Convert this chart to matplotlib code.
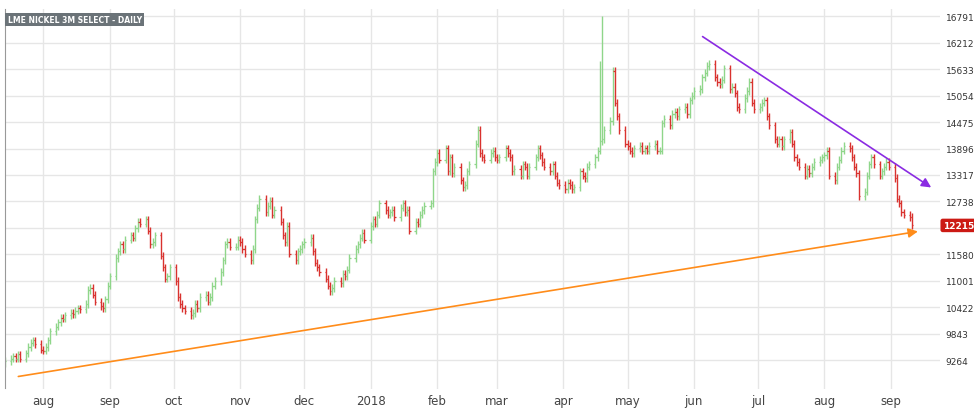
import matplotlib
matplotlib.use("Agg")
import matplotlib.pyplot as plt
import matplotlib.dates as mdates
import pandas as pd
import numpy as np

closes = [9250, 9300, 9350, 9300, 9400,
 9300, 9420, 9560, 9650, 9700, 9620, 9500, 9480, 9560, 9700, 9900, 10000,
 10100, 10200, 10180, 10250, 10300, 10270, 10350, 10400, 10380, 10500, 10800, 10850, 10700, 10550, 10450, 10400, 10600, 10900, 11100, 11500, 11650, 11800, 11700,
 11900, 12000, 11950, 12150, 12300, 12250, 12350, 12100, 11800, 11850, 12000, 11550, 11300, 11050, 11100, 11300, 11000, 10650, 10500, 10400, 10350,
 10250, 10300, 10500, 10400, 10650, 10700, 10550, 10650, 10900, 11000, 11200, 11450, 11800, 11850, 11750, 11750, 11900, 11850, 11700, 11600, 11450, 11700,
 12350, 12600, 12790, 12500, 12650, 12750, 12450, 12550, 12300, 12000, 11850, 12200, 11600, 11450, 11650, 11700, 11800, 11850, 11950, 11650, 11400, 11300,
 11200, 11050, 10900, 10780, 10850, 11000, 10950, 11150, 11100, 11250, 11500, 11700, 11800, 11950, 12050, 11900, 12200, 12350, 12250, 12450,
 12700, 12550, 12450, 12500, 12550, 12400, 12600, 12700, 12500, 12550, 12100, 12300, 12250, 12450, 12550, 12650, 12700, 13400, 13600, 13800, 13650, 13900,
 13400, 13700, 13350, 13500, 13200, 13050, 13100, 13400, 13550, 14000, 14300, 13800, 13700, 13650, 13800, 13850, 13700, 13650, 13700, 13900,
 13800, 13700, 13400, 13450, 13300, 13550, 13500, 13300, 13500, 13700, 13900, 13750, 13600, 13500, 13400, 13550, 13300, 13150, 13100, 13000, 13150, 13100,
 13000, 13050, 13400, 13300, 13250, 13500, 13550, 13700, 13850, 14050, 14100, 14300, 14500, 15600, 14900, 14600, 14300, 14000, 13950, 13850,
 13800, 13900, 13950, 13850, 13900, 13850, 13950, 14000, 13850, 13850, 14450, 14550, 14400, 14650, 14700, 14600, 14750, 14800, 14650, 14950, 15050, 15150,
 15200, 15450, 15550, 15700, 15750, 15450, 15350, 15300, 15400, 15650, 15200, 15250, 15100, 14800, 14750, 15000, 15150, 15350, 14900, 14750, 14800,
 14900, 14950, 14600, 14400, 14100, 14000, 14100, 13950, 14100, 14250, 14000, 13700, 13600, 13500, 13300, 13450, 13350, 13500, 13600, 13650, 13700, 13750,
 13850, 13300, 13200, 13500, 13650, 13850, 13950, 13900, 13700, 13500, 13350, 12850, 12950, 13300, 13550, 13700, 13550, 13300, 13400, 13500, 13600, 13500,
 13250, 12800, 12700, 12500, 12450, 12400, 12215]
first_open = 9200
spike_highs = {"2018-04-19": 16791, "2018-04-18": 15800}
wick = 80

y_ticks = [9264, 9843, 10422, 11001, 11580, 12159, 12738, 13317, 13896, 14475, 15054, 15633, 16212, 16791]
month_labels = ["aug", "sep", "oct", "nov", "dec", "2018", "feb", "mar", "apr", "may", "jun", "jul", "aug", "sep"]
month_starts = pd.date_range("2017-08-01", "2018-09-01", freq="MS")

orange_line = (("2017-07-19", 8903), ("2018-09-15", 12093))
purple_line = (("2018-06-04", 16376), ("2018-09-21", 13011))

dates = pd.bdate_range(end="2018-09-11", periods=len(closes))
opens = [first_open] + closes[:-1]

fig = plt.figure(figsize=(9.74, 4.10), dpi=100)
ax = fig.add_axes([0.005, 0.05, 0.96, 0.925])
green, red = "#8fd68a", "#d9322e"
xs = mdates.date2num(dates)
for x, d, o, c in zip(xs, dates, opens, closes):
    col = green if c >= o else red
    hi = max(o, c) + wick
    lo = min(o, c) - wick
    key = d.strftime("%Y-%m-%d")
    if key in spike_highs:
        hi = spike_highs[key]
    ax.vlines(x, lo, hi, color=col, lw=1.0)
    ax.hlines(o, x - 0.6, x, color=col, lw=0.9)
    ax.hlines(c, x, x + 0.6, color=col, lw=0.9)

def arrow(line, col):
    (d0, v0), (d1, v1) = line
    x0, x1 = mdates.datestr2num(d0), mdates.datestr2num(d1)
    ax.annotate("", xy=(x1, v1), xytext=(x0, v0),
                arrowprops=dict(arrowstyle="-|>", color=col, lw=1.2, mutation_scale=14))
arrow(orange_line, "#ff8c1a")
arrow(purple_line, "#8a2be2")

ax.set_xlim(mdates.datestr2num("2017-07-14"), mdates.datestr2num("2018-09-24"))
ax.set_ylim(8650, 16940)
ax.set_xticks(mdates.date2num(month_starts))
ax.set_xticklabels(month_labels, fontsize=8.5, color="#444")
ax.yaxis.tick_right()
ax.set_yticks(y_ticks)
ax.set_yticklabels(["" if v == 12159 else str(v) for v in y_ticks], fontsize=6.5, color="#333")
ax.tick_params(length=0, pad=4)
ax.grid(True, color="#e6e6e6", lw=1)
ax.set_axisbelow(True)
for s in ["top", "right", "bottom"]:
    ax.spines[s].set_visible(False)
ax.spines["left"].set_color("#999")
ax.text(0.003, 0.985, "LME NICKEL 3M SELECT - DAILY", transform=ax.transAxes, fontsize=5.5,
        color="white", va="top", ha="left", fontweight="bold",
        bbox=dict(boxstyle="square,pad=0.3", fc="#6b7378", ec="none"))
ax.text(1.003, 12215, str(closes[-1]), transform=ax.get_yaxis_transform(), fontsize=6.5,
        color="white", va="center", ha="left", fontweight="bold",
        bbox=dict(boxstyle="round,pad=0.25", fc="#cc1a14", ec="none"))
fig.savefig("out.png", dpi=100)
